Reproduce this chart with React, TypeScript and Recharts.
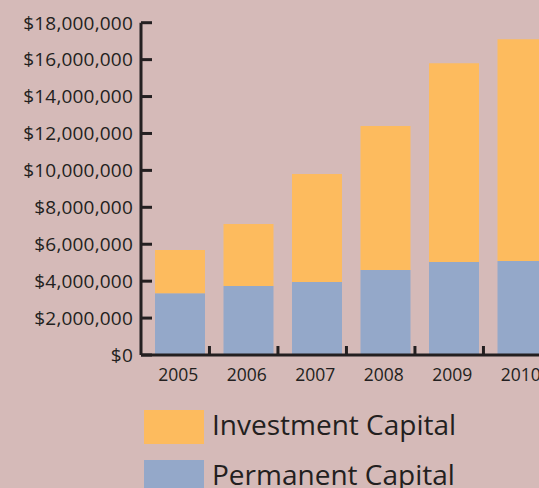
import React from "react";
import { BarChart, Bar, XAxis, YAxis } from "recharts";

const years = ["2005", "2006", "2007", "2008", "2009", "2010"];
const permanentCapital = [3340000, 3740000, 3950000, 4600000, 5040000, 5090000];
const investmentCapital = [2350000, 3360000, 5850000, 7800000, 10760000, 12010000];
const yTicks = [0, 2000000, 4000000, 6000000, 8000000, 10000000, 12000000, 14000000, 16000000, 18000000];
const seriesNames = ["Investment Capital", "Permanent Capital"];

const BG = "#d5bab8";
const ORANGE = "#fdbb5e";
const BLUE = "#94a8c9";
const INK = "#231f20";

const data = years.map((y, i) => ({
  year: y,
  permanent: permanentCapital[i],
  investment: investmentCapital[i],
}));

const fmt = (v: number) => "$" + v.toLocaleString("en-US");

const YTick = (props: any) => {
  const { x, y, payload } = props;
  return (
    <g>
      <line x1={x} x2={x + 11} y1={y} y2={y} stroke={INK} strokeWidth={3} />
      <text
        x={x - 8}
        y={y}
        dy="0.36em"
        textAnchor="end"
        fill={INK}
        fontFamily="'Open Sans', sans-serif"
        fontSize={19}
        letterSpacing={0.2}
      >
        {fmt(payload.value)}
      </text>
    </g>
  );
};

const XTick = (props: any) => {
  const { x, y, payload } = props;
  return (
    <g>
      <line x1={x + 29.2} x2={x + 29.2} y1={y} y2={y - 9} stroke={INK} strokeWidth={3} />
      <text
        x={x - 2}
        y={y + 26}
        textAnchor="middle"
        fill={INK}
        fontFamily="'Open Sans', sans-serif"
        fontSize={17.5}
      >
        {payload.value}
      </text>
    </g>
  );
};

export default function App() {
  const legendColors = [ORANGE, BLUE];
  return (
    <div
      style={{
        position: "absolute",
        left: 0,
        top: 0,
        width: 539,
        height: 488,
        overflow: "hidden",
        background: BG,
      }}
    >
      <BarChart
        width={557}
        height={400}
        data={data}
        margin={{ top: 22.7, right: 0, bottom: 0, left: 0 }}
        barSize={50}
      >
        <YAxis
          width={141}
          domain={[0, 18000000]}
          ticks={yTicks}
          interval={0}
          tickSize={0}
          tickMargin={0}
          tickLine={false}
          axisLine={{ stroke: INK, strokeWidth: 3 }}
          tick={<YTick />}
        />
        <XAxis
          dataKey="year"
          height={45}
          padding={{ left: 5, right: 0 }}
          tickSize={0}
          tickMargin={0}
          tickLine={false}
          interval={0}
          axisLine={{ stroke: INK, strokeWidth: 3 }}
          tick={<XTick />}
        />
        <Bar dataKey="permanent" stackId="a" fill={BLUE} isAnimationActive={false} />
        <Bar dataKey="investment" stackId="a" fill={ORANGE} isAnimationActive={false} />
      </BarChart>
      {seriesNames.map((name, i) => (
        <div
          key={name}
          style={{
            position: "absolute",
            left: 144,
            top: 410 + i * 50,
            height: 34,
            display: "flex",
            alignItems: "center",
          }}
        >
          <div style={{ width: 60, height: 34, background: legendColors[i] }} />
          <div
            style={{
              marginLeft: 8,
              fontFamily: "'Open Sans', sans-serif",
              fontSize: 28,
              color: INK,
              whiteSpace: "nowrap",
              lineHeight: "34px",
              position: "relative",
              top: -3,
            }}
          >
            {name}
          </div>
        </div>
      ))}
    </div>
  );
}
